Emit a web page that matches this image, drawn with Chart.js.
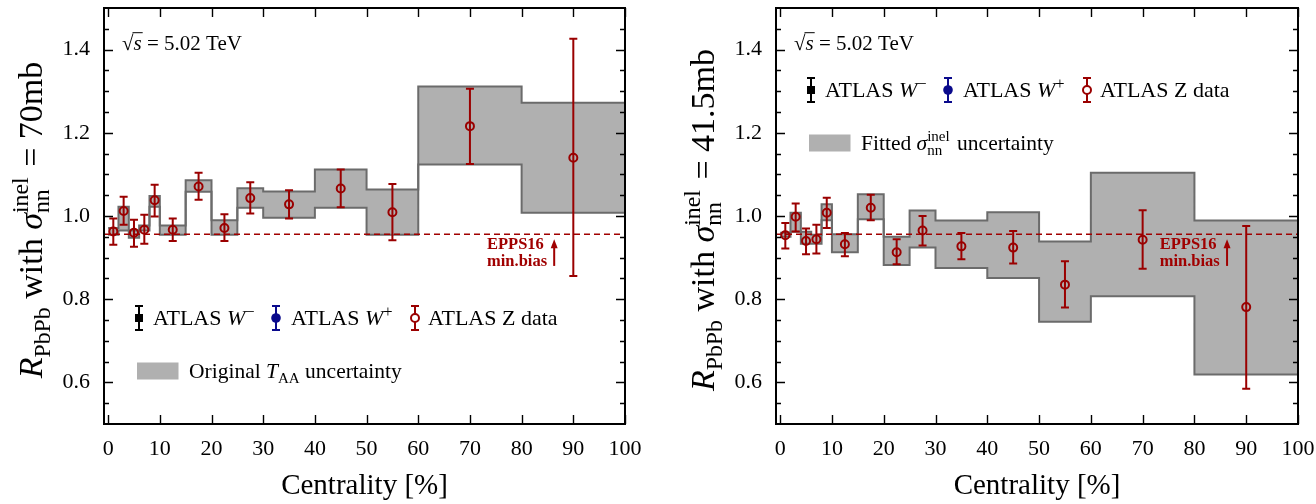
<!DOCTYPE html>
<html>
<head>
<meta charset="utf-8">
<script src="https://cdn.jsdelivr.net/npm/chart.js@4.4.0/dist/chart.umd.min.js"></script>
<style>
  html, body { margin: 0; padding: 0; background: #fff; }
  #wrap { position: relative; width: 1316px; height: 504px; }
  canvas { position: absolute; top: 0; }
</style>
</head>
<body>
<div id="wrap">
  <canvas id="left" width="672" height="504" style="left:0"></canvas>
  <canvas id="right" width="644" height="504" style="left:672px"></canvas>
</div>
<script>
// R_PbPb for Z bosons vs centrality, two sigma_nn choices

const SERIF = '"Liberation Serif", "DejaVu Serif", serif';
const RED = '#9a0000';

// centrality bins of the T_AA / sigma uncertainty band
const binEdges = [0, 2, 4, 6, 8, 10, 15, 20, 25, 30, 40, 50, 60, 80, 100];

// Z data points (bin centres)
const zCent = [1, 3, 5, 7, 9, 12.5, 17.5, 22.5, 27.5, 35, 45, 55, 70, 90];

// sigma_nn = 70 mb
const zVal70 = [0.963, 1.012, 0.960, 0.967, 1.038, 0.967, 1.071, 0.971, 1.043, 1.028, 1.066, 1.009, 1.216, 1.140];
const zHi70  = [0.994, 1.046, 0.991, 1.003, 1.075, 0.994, 1.104, 1.004, 1.081, 1.062, 1.112, 1.077, 1.306, 1.426];
const zLo70  = [0.931, 0.979, 0.926, 0.933, 0.999, 0.940, 1.039, 0.940, 1.006, 0.994, 1.021, 0.942, 1.125, 0.856];
const band70Lo = [0.955, 0.965, 0.948, 0.965, 1.022, 0.955, 1.058, 0.955, 1.020, 0.996, 1.020, 0.955, 1.124, 1.008];
const band70Hi = [0.971, 1.022, 0.965, 0.977, 1.048, 0.977, 1.086, 0.990, 1.067, 1.059, 1.112, 1.064, 1.311, 1.272];

// sigma_nn = 41.5 mb
const zVal41 = [0.954, 0.998, 0.940, 0.944, 1.008, 0.932, 1.020, 0.913, 0.965, 0.927, 0.924, 0.835, 0.943, 0.781];
const zHi41  = [0.983, 1.030, 0.970, 0.979, 1.044, 0.959, 1.051, 0.944, 1.000, 0.959, 0.964, 0.891, 1.014, 0.976];
const zLo41  = [0.922, 0.963, 0.908, 0.910, 0.971, 0.903, 0.990, 0.884, 0.929, 0.896, 0.886, 0.780, 0.873, 0.585];
const band41Lo = [0.950, 0.962, 0.933, 0.933, 0.990, 0.913, 0.992, 0.882, 0.924, 0.875, 0.851, 0.746, 0.807, 0.619];
const band41Hi = [0.960, 1.008, 0.962, 0.955, 1.028, 0.956, 1.052, 0.950, 1.013, 0.989, 1.009, 0.939, 1.104, 0.989];

// EPPS16 min. bias prediction
const eppsValue = 0.956;

// axes
const xTicks = [0, 10, 20, 30, 40, 50, 60, 70, 80, 90, 100];
const yTicks = [0.6, 0.8, 1.0, 1.2, 1.4];
const yMinor = [0.55, 0.65, 0.7, 0.75, 0.85, 0.9, 0.95, 1.05, 1.1, 1.15, 1.25, 1.3, 1.35, 1.45];
const X_MIN = -0.8, X_MAX = 100, Y_MIN = 0.5, Y_MAX = 1.5;

function font(sz, it, bold) {
  return (bold ? 'bold ' : '') + (it ? 'italic ' : '') + sz + 'px ' + SERIF;
}

// draw a run of text pieces (italic / sub / sup), returns width
function rich(ctx, parts, x, y, base, draw) {
  let cx = x;
  for (const p of parts) {
    if (p.sup !== undefined) {
      ctx.font = font(base * 0.7);
      const w1 = ctx.measureText(p.sup).width, w2 = ctx.measureText(p.sub).width;
      if (draw) {
        ctx.fillText(p.sup, cx, y - base * 0.4);
        ctx.fillText(p.sub, cx, y + base * 0.22);
      }
      cx += Math.max(w1, w2) + 2;
      continue;
    }
    ctx.font = font(base * (p.s || 1), p.i, p.b);
    if (draw) ctx.fillText(p.t, cx, y + (p.dy || 0) * base);
    cx += ctx.measureText(p.t).width;
  }
  return cx - x;
}

function errBar(ctx, x, yTop, yBot, cap, color, lw) {
  ctx.strokeStyle = color;
  ctx.lineWidth = lw;
  ctx.beginPath();
  ctx.moveTo(x, yTop); ctx.lineTo(x, yBot);
  ctx.moveTo(x - cap, yTop); ctx.lineTo(x + cap, yTop);
  ctx.moveTo(x - cap, yBot); ctx.lineTo(x + cap, yBot);
  ctx.stroke();
}

function stepPoints(vals) {
  return binEdges.map((e, i) => ({ x: e, y: vals[Math.min(i, vals.length - 1)] }));
}

function makeChart(canvasId, d) {
  const decor = {
    id: 'decor' + canvasId,
    afterDatasetsDraw(chart) {
      const ctx = chart.ctx, xs = chart.scales.x, ys = chart.scales.y;
      ctx.save();
      // error bars of Z data
      zCent.forEach((c, i) => {
        errBar(ctx, xs.getPixelForValue(c), ys.getPixelForValue(d.hi[i]),
          ys.getPixelForValue(d.lo[i]), 4, RED, 2);
      });
      // EPPS16 note and arrow
      ctx.fillStyle = '#a00000';
      ctx.font = font(16.5, false, true);
      ctx.textBaseline = 'middle';
      ctx.textAlign = 'left';
      ctx.fillText('EPPS16', xs.getPixelForValue(73.3), ys.getPixelForValue(0.930));
      ctx.fillText('min.bias', xs.getPixelForValue(73.3), ys.getPixelForValue(0.889));
      const ax = xs.getPixelForValue(86.3);
      const aTop = ys.getPixelForValue(0.944), aBot = ys.getPixelForValue(0.880);
      ctx.strokeStyle = '#a00000';
      ctx.lineWidth = 2;
      ctx.beginPath(); ctx.moveTo(ax, aBot); ctx.lineTo(ax, aTop + 6); ctx.stroke();
      ctx.beginPath();
      ctx.moveTo(ax, aTop); ctx.lineTo(ax - 3.5, aTop + 9); ctx.lineTo(ax + 3.5, aTop + 9);
      ctx.closePath(); ctx.fill();
      ctx.restore();
    },
    afterDraw(chart) {
      const ctx = chart.ctx, ca = chart.chartArea, xs = chart.scales.x, ys = chart.scales.y;
      ctx.save();
      // frame
      ctx.strokeStyle = '#000';
      ctx.lineWidth = 2;
      ctx.strokeRect(ca.left, ca.top, ca.right - ca.left, ca.bottom - ca.top);
      // inward ticks on all four sides
      ctx.lineWidth = 1.4;
      ctx.beginPath();
      xTicks.forEach(v => {
        const px = Math.round(xs.getPixelForValue(v)) + 0.5;
        ctx.moveTo(px, ca.bottom); ctx.lineTo(px, ca.bottom - 9);
        ctx.moveTo(px, ca.top); ctx.lineTo(px, ca.top + 9);
      });
      yTicks.forEach(v => {
        const py = Math.round(ys.getPixelForValue(v)) + 0.5;
        ctx.moveTo(ca.left, py); ctx.lineTo(ca.left + 9, py);
        ctx.moveTo(ca.right, py); ctx.lineTo(ca.right - 9, py);
      });
      yMinor.forEach(v => {
        const py = Math.round(ys.getPixelForValue(v)) + 0.5;
        ctx.moveTo(ca.left, py); ctx.lineTo(ca.left + 5, py);
        ctx.moveTo(ca.right, py); ctx.lineTo(ca.right - 5, py);
      });
      ctx.stroke();

      ctx.fillStyle = '#000';
      ctx.textBaseline = 'alphabetic';
      ctx.textAlign = 'left';

      // sqrt(s) label
      const sx = ca.left + 18, sy = 50;
      ctx.font = font(21);
      ctx.fillText('\u221A', sx, sy);
      const rw = ctx.measureText('\u221A').width;
      ctx.font = font(21, true);
      const sw = ctx.measureText('s').width;
      ctx.fillText('s', sx + rw, sy);
      ctx.lineWidth = 1;
      ctx.beginPath(); ctx.moveTo(sx + rw - 1, sy - 17.3); ctx.lineTo(sx + rw + sw + 1, sy - 17.3); ctx.stroke();
      ctx.font = font(21);
      ctx.fillText(' = 5.02 TeV', sx + rw + sw, sy);

      // legend row: W-, W+, Z
      const ly = d.legendY, lf = 22;
      let mx = ca.left + 35;
      errBar(ctx, mx, ly - 12, ly + 12, 4, '#000', 2);
      ctx.fillStyle = '#000';
      ctx.fillRect(mx - 4, ly - 4, 8, 8);
      rich(ctx, [{ t: 'ATLAS ' }, { t: 'W', i: true }, { t: '\u2212', s: 0.75, dy: -0.36 }], mx + 14, ly + 7, lf, true);
      mx = ca.left + 172;
      errBar(ctx, mx, ly - 12, ly + 12, 4, '#0a0a8c', 2);
      ctx.fillStyle = '#0a0a8c';
      ctx.beginPath(); ctx.arc(mx, ly, 4.8, 0, Math.PI * 2); ctx.fill();
      ctx.fillStyle = '#000';
      rich(ctx, [{ t: 'ATLAS ' }, { t: 'W', i: true }, { t: '+', s: 0.75, dy: -0.36 }], mx + 15, ly + 7, lf, true);
      mx = ca.left + 311;
      errBar(ctx, mx, ly - 12, ly + 12, 4, RED, 2);
      ctx.strokeStyle = RED;
      ctx.fillStyle = '#fff';
      ctx.beginPath(); ctx.arc(mx, ly, 4, 0, Math.PI * 2); ctx.fill(); ctx.stroke();
      ctx.fillStyle = '#000';
      rich(ctx, [{ t: 'ATLAS Z data' }], mx + 13, ly + 7, lf, true);

      // band legend
      const by = d.bandY;
      ctx.fillStyle = '#b0b0b0';
      ctx.fillRect(ca.left + 33, by - 8.5, 41.5, 17);
      ctx.fillStyle = '#000';
      rich(ctx, d.bandText, ca.left + 85, by + 7, 21.5, true);

      // y axis title, rotated
      const title = [
        { t: 'R', i: true }, { t: 'PbPb', s: 0.7, dy: 0.24 }, { t: ' with ' },
        { t: '\u03C3', i: true }, { sup: 'inel', sub: 'nn' }, { t: ' = ' + d.sigma }
      ];
      const tw = rich(ctx, title, 0, 0, 34, false);
      ctx.translate(42, (ca.top + ca.bottom) / 2 + 4);
      ctx.rotate(-Math.PI / 2);
      rich(ctx, title, -tw / 2, 0, 34, true);
      ctx.restore();
    }
  };

  return new Chart(document.getElementById(canvasId), {
    type: 'line',
    data: {
      datasets: [
        {
          label: 'ATLAS Z data',
          data: zCent.map((c, i) => ({ x: c, y: d.val[i] })),
          showLine: false,
          pointStyle: 'circle',
          pointRadius: 4,
          pointBorderWidth: 2,
          pointBorderColor: RED,
          pointBackgroundColor: 'rgba(0,0,0,0)'
        },
        {
          label: 'EPPS16',
          data: [{ x: X_MIN, y: eppsValue }, { x: X_MAX, y: eppsValue }],
          borderColor: '#a00000',
          borderWidth: 1.5,
          borderDash: [6, 4],
          pointRadius: 0
        },
        {
          label: 'band high',
          data: stepPoints(d.bandHi),
          stepped: 'before',
          borderColor: '#6b6b6b',
          borderWidth: 2,
          pointRadius: 0,
          fill: false
        },
        {
          label: 'band low',
          data: stepPoints(d.bandLo),
          stepped: 'before',
          borderColor: '#6b6b6b',
          borderWidth: 2,
          pointRadius: 0,
          backgroundColor: '#b0b0b0',
          fill: '-1'
        }
      ]
    },
    options: {
      responsive: false,
      devicePixelRatio: 1,
      animation: false,
      events: [],
      layout: { padding: { top: 8, right: d.rightPad, left: 0, bottom: 0 } },
      plugins: { legend: { display: false }, tooltip: { enabled: false } },
      scales: {
        x: {
          type: 'linear',
          min: X_MIN,
          max: X_MAX,
          afterBuildTicks: s => { s.ticks = xTicks.map(v => ({ value: v })); },
          afterFit: s => { s.height = 80; s.paddingLeft = 0; s.paddingRight = 0; },
          grid: { display: false, drawTicks: false },
          border: { display: false },
          ticks: { color: '#000', font: { family: SERIF, size: 22 }, padding: 12, maxRotation: 0, autoSkip: false },
          title: { display: true, text: 'Centrality [%]', color: '#000', font: { family: SERIF, size: 29 }, padding: 0 }
        },
        y: {
          min: Y_MIN,
          max: Y_MAX,
          afterBuildTicks: s => { s.ticks = yTicks.map(v => ({ value: v })); },
          afterFit: s => { s.width = 104; s.paddingTop = 0; s.paddingBottom = 0; },
          grid: { display: false, drawTicks: false },
          border: { display: false },
          ticks: { color: '#000', font: { family: SERIF, size: 22 }, padding: 14, callback: v => v.toFixed(1) }
        }
      }
    },
    plugins: [decor]
  });
}

makeChart('left', {
  val: zVal70, hi: zHi70, lo: zLo70, bandLo: band70Lo, bandHi: band70Hi,
  sigma: '70mb', legendY: 318, bandY: 371, rightPad: 47,
  bandText: [{ t: 'Original ' }, { t: 'T', i: true }, { t: 'AA', s: 0.7, dy: 0.22 }, { t: ' uncertainty' }]
});

makeChart('right', {
  val: zVal41, hi: zHi41, lo: zLo41, bandLo: band41Lo, bandHi: band41Hi,
  sigma: '41.5mb', legendY: 90, bandY: 143, rightPad: 18,
  bandText: [{ t: 'Fitted ' }, { t: '\u03C3', i: true }, { sup: 'inel', sub: 'nn' }, { t: ' uncertainty' }]
});
</script>
</body>
</html>
